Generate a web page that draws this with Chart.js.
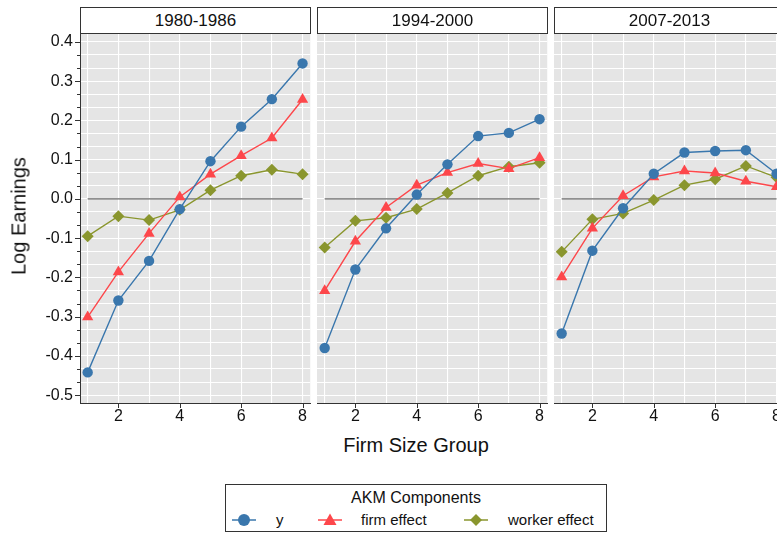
<!DOCTYPE html>
<html><head><meta charset="utf-8">
<script src="https://cdn.jsdelivr.net/npm/chart.js@4"></script>
<style>
html,body{margin:0;padding:0;background:#fff;overflow:hidden;width:777px;height:533px;font-family:"Liberation Sans",Arial,Helvetica,sans-serif;color:#111;}
#wrap{position:relative;width:777px;height:533px;overflow:hidden;}
canvas{position:absolute;top:0;}
.hdr{position:absolute;top:7px;height:27px;width:231px;box-sizing:border-box;border:1px solid #333;background:#fff;text-align:center;font-size:17px;line-height:25px;}
.ttl{position:absolute;font-size:20px;white-space:nowrap;}
#legend{position:absolute;left:225px;top:484px;width:382px;height:48px;box-sizing:border-box;border:1px solid #333;background:#fff;}
#legend .lt{position:absolute;left:0;width:100%;top:4px;text-align:center;font-size:16px;}
#legend .li{position:absolute;top:26px;font-size:15px;line-height:18px;}
#legend svg{position:absolute;top:26px;}
</style></head><body>
<div id="wrap">
<canvas id="c0" width="311" height="430" style="left:0px;width:311px;height:430px"></canvas>
<canvas id="c1" width="231" height="430" style="left:317px;width:231px;height:430px"></canvas>
<canvas id="c2" width="231" height="430" style="left:554px;width:231px;height:430px"></canvas>
<div class="hdr" id="h0" style="left:80px"></div>
<div class="hdr" id="h1" style="left:317px"></div>
<div class="hdr" id="h2" style="left:554px"></div>
<div class="ttl" style="left:19px;top:216px;transform:translate(-50%,-50%) rotate(-90deg);">Log Earnings</div>
<div class="ttl" style="left:416px;top:445px;transform:translate(-50%,-50%);">Firm Size Group</div>
<div id="legend"></div>
</div>
<script>
// ---- data ----
const panels = ['1980-1986', '1994-2000', '2007-2013'];
const groups = [1, 2, 3, 4, 5, 6, 7, 8];
const xTickLabels = [2, 4, 6, 8];
const yTickLabels = [-0.5, -0.4, -0.3, -0.2, -0.1, 0.0, 0.1, 0.2, 0.3, 0.4];

const y_1980 = [-0.442, -0.259, -0.158, -0.026, 0.096, 0.184, 0.254, 0.345];
const firm_1980 = [-0.301, -0.186, -0.088, 0.005, 0.063, 0.110, 0.155, 0.253];
const worker_1980 = [-0.095, -0.044, -0.054, -0.028, 0.022, 0.059, 0.074, 0.063];

const y_1994 = [-0.380, -0.180, -0.075, 0.011, 0.088, 0.160, 0.168, 0.203];
const firm_1994 = [-0.234, -0.108, -0.022, 0.035, 0.067, 0.090, 0.077, 0.105];
const worker_1994 = [-0.124, -0.056, -0.048, -0.026, 0.015, 0.059, 0.082, 0.092];

const y_2007 = [-0.343, -0.132, -0.024, 0.064, 0.118, 0.122, 0.124, 0.064];
const firm_2007 = [-0.199, -0.075, 0.008, 0.056, 0.071, 0.066, 0.045, 0.031];
const worker_2007 = [-0.135, -0.052, -0.037, -0.003, 0.035, 0.050, 0.084, 0.055];

const seriesNames = ['y', 'firm effect', 'worker effect'];
const legendTitle = 'AKM Components';

// ---- styles ----
const COL_Y = '#3a77ad', COL_F = '#fd474b', COL_W = '#8a962e';
const BG = '#e5e5e5';
const panelData = [
  [y_1980, firm_1980, worker_1980],
  [y_1994, firm_1994, worker_1994],
  [y_2007, firm_2007, worker_2007]
];

// gridline positions (every 1/30 between labelled ticks)
const yGrid = [];
for (let k = -15; k <= 12; k++) yGrid.push(k / 30);

function pts(arr) { return groups.map((g, i) => ({x: g, y: arr[i]})); }

const bgPlugin = {
  id: 'bg',
  beforeDraw(chart) {
    const {ctx, chartArea: a} = chart;
    ctx.save(); ctx.fillStyle = BG;
    ctx.fillRect(a.left, a.top, a.right - a.left, a.bottom - a.top);
    ctx.restore();
  },
  afterDraw(chart) {
    const {ctx, chartArea: a, scales} = chart;
    ctx.save(); ctx.strokeStyle = '#333'; ctx.lineWidth = 1;
    xTickLabels.forEach(v => {
      const px = Math.round(scales.x.getPixelForValue(v)) + 0.5;
      ctx.beginPath(); ctx.moveTo(px, a.bottom); ctx.lineTo(px, a.bottom + 5); ctx.stroke();
    });
    if (chart.options.plugins.bg && chart.options.plugins.bg.yTicks) {
      yGrid.forEach((v, k) => {
        const major = (k % 3 === 0);
        const py = Math.round(scales.y.getPixelForValue(v)) + 0.5;
        ctx.beginPath(); ctx.moveTo(a.left - (major ? 5 : 3), py); ctx.lineTo(a.left, py); ctx.stroke();
      });
    }
    ctx.restore();
  }
};

function makeChart(idx) {
  const [ys, fs, ws] = panelData[idx];
  const first = idx === 0;
  document.getElementById('h' + idx).textContent = panels[idx];
  new Chart(document.getElementById('c' + idx), {
    type: 'line',
    data: {
      datasets: [
        {label: seriesNames[0], data: pts(ys), borderColor: COL_Y, backgroundColor: COL_Y, borderWidth: 1.4,
         pointStyle: 'circle', pointRadius: 5.2, pointBorderWidth: 0, pointBackgroundColor: COL_Y},
        {label: seriesNames[1], data: pts(fs), borderColor: COL_F, backgroundColor: COL_F, borderWidth: 1.4,
         pointStyle: 'triangle', pointRadius: 6.5, pointBorderWidth: 0, pointBackgroundColor: COL_F},
        {label: seriesNames[2], data: pts(ws), borderColor: COL_W, backgroundColor: COL_W, borderWidth: 1.4,
         pointStyle: 'rectRot', pointRadius: 6, pointBorderWidth: 0, pointBackgroundColor: COL_W},
        {label: 'zero', data: [{x: groups[0], y: 0}, {x: groups[groups.length - 1], y: 0}],
         borderColor: '#6b6b6b', borderWidth: 1.3, pointRadius: 0}
      ]
    },
    options: {
      responsive: false, animation: false, maintainAspectRatio: false,
      layout: {padding: {top: 34, left: 0, right: 0, bottom: 0}, autoPadding: false},
      plugins: {legend: {display: false}, tooltip: {enabled: false}, bg: {yTicks: first}},
      elements: {line: {tension: 0}},
      scales: {
        x: {
          type: 'linear', min: 0.75, max: 8.25,
          afterBuildTicks: s => { s.ticks = groups.map(v => ({value: v})); },
          afterFit: s => { s.height = 27; },
          ticks: {autoSkip: false, maxRotation: 0, padding: 4, color: '#111',
                  font: {size: 16, family: '"Liberation Sans", Arial, sans-serif'},
                  callback: v => xTickLabels.includes(v) ? String(v) : ''},
          grid: {color: '#ffffff', lineWidth: 1.1, drawTicks: false},
          border: {display: true, color: '#333', width: 1}
        },
        y: {
          type: 'linear', min: -0.52, max: 0.42,
          afterBuildTicks: s => { s.ticks = yGrid.map(v => ({value: v})); },
          afterFit: s => { s.width = first ? 80 : 0; },
          ticks: {display: first, autoSkip: false, padding: 7, color: '#111',
                  font: {size: 16, family: '"Liberation Sans", Arial, sans-serif'},
                  callback: v => {
                    const hit = yTickLabels.find(t => Math.abs(t - v) < 1e-6);
                    return hit === undefined ? '' : hit.toFixed(1);
                  }},
          grid: {color: '#ffffff', lineWidth: 1, drawTicks: false},
          border: {display: first, color: '#333', width: 1}
        }
      }
    },
    plugins: [bgPlugin]
  });
}
[0, 1, 2].forEach(makeChart);

// ---- legend (HTML) ----
const lg = document.getElementById('legend');
const t = document.createElement('div'); t.className = 'lt'; t.textContent = legendTitle; lg.appendChild(t);
const syms = [
  {c: COL_Y, x: 6, tx: 50, shape: '<circle cx="12" cy="9" r="6"/>'},
  {c: COL_F, x: 92, tx: 135, shape: '<polygon points="12,2.5 18.5,14 5.5,14"/>'},
  {c: COL_W, x: 238, tx: 282, shape: '<polygon points="12,3 18,9 12,15 6,9"/>'}
];
syms.forEach((s, i) => {
  const svg = `<svg width="24" height="18" style="left:${s.x}px" xmlns="http://www.w3.org/2000/svg">
    <line x1="0" y1="9" x2="24" y2="9" stroke="${s.c}" stroke-width="1.5"/>
    <g fill="${s.c}">${s.shape}</g></svg>`;
  lg.insertAdjacentHTML('beforeend', svg);
  const d = document.createElement('div'); d.className = 'li'; d.style.left = s.tx + 'px';
  d.textContent = seriesNames[i]; lg.appendChild(d);
});
</script>
</body></html>
